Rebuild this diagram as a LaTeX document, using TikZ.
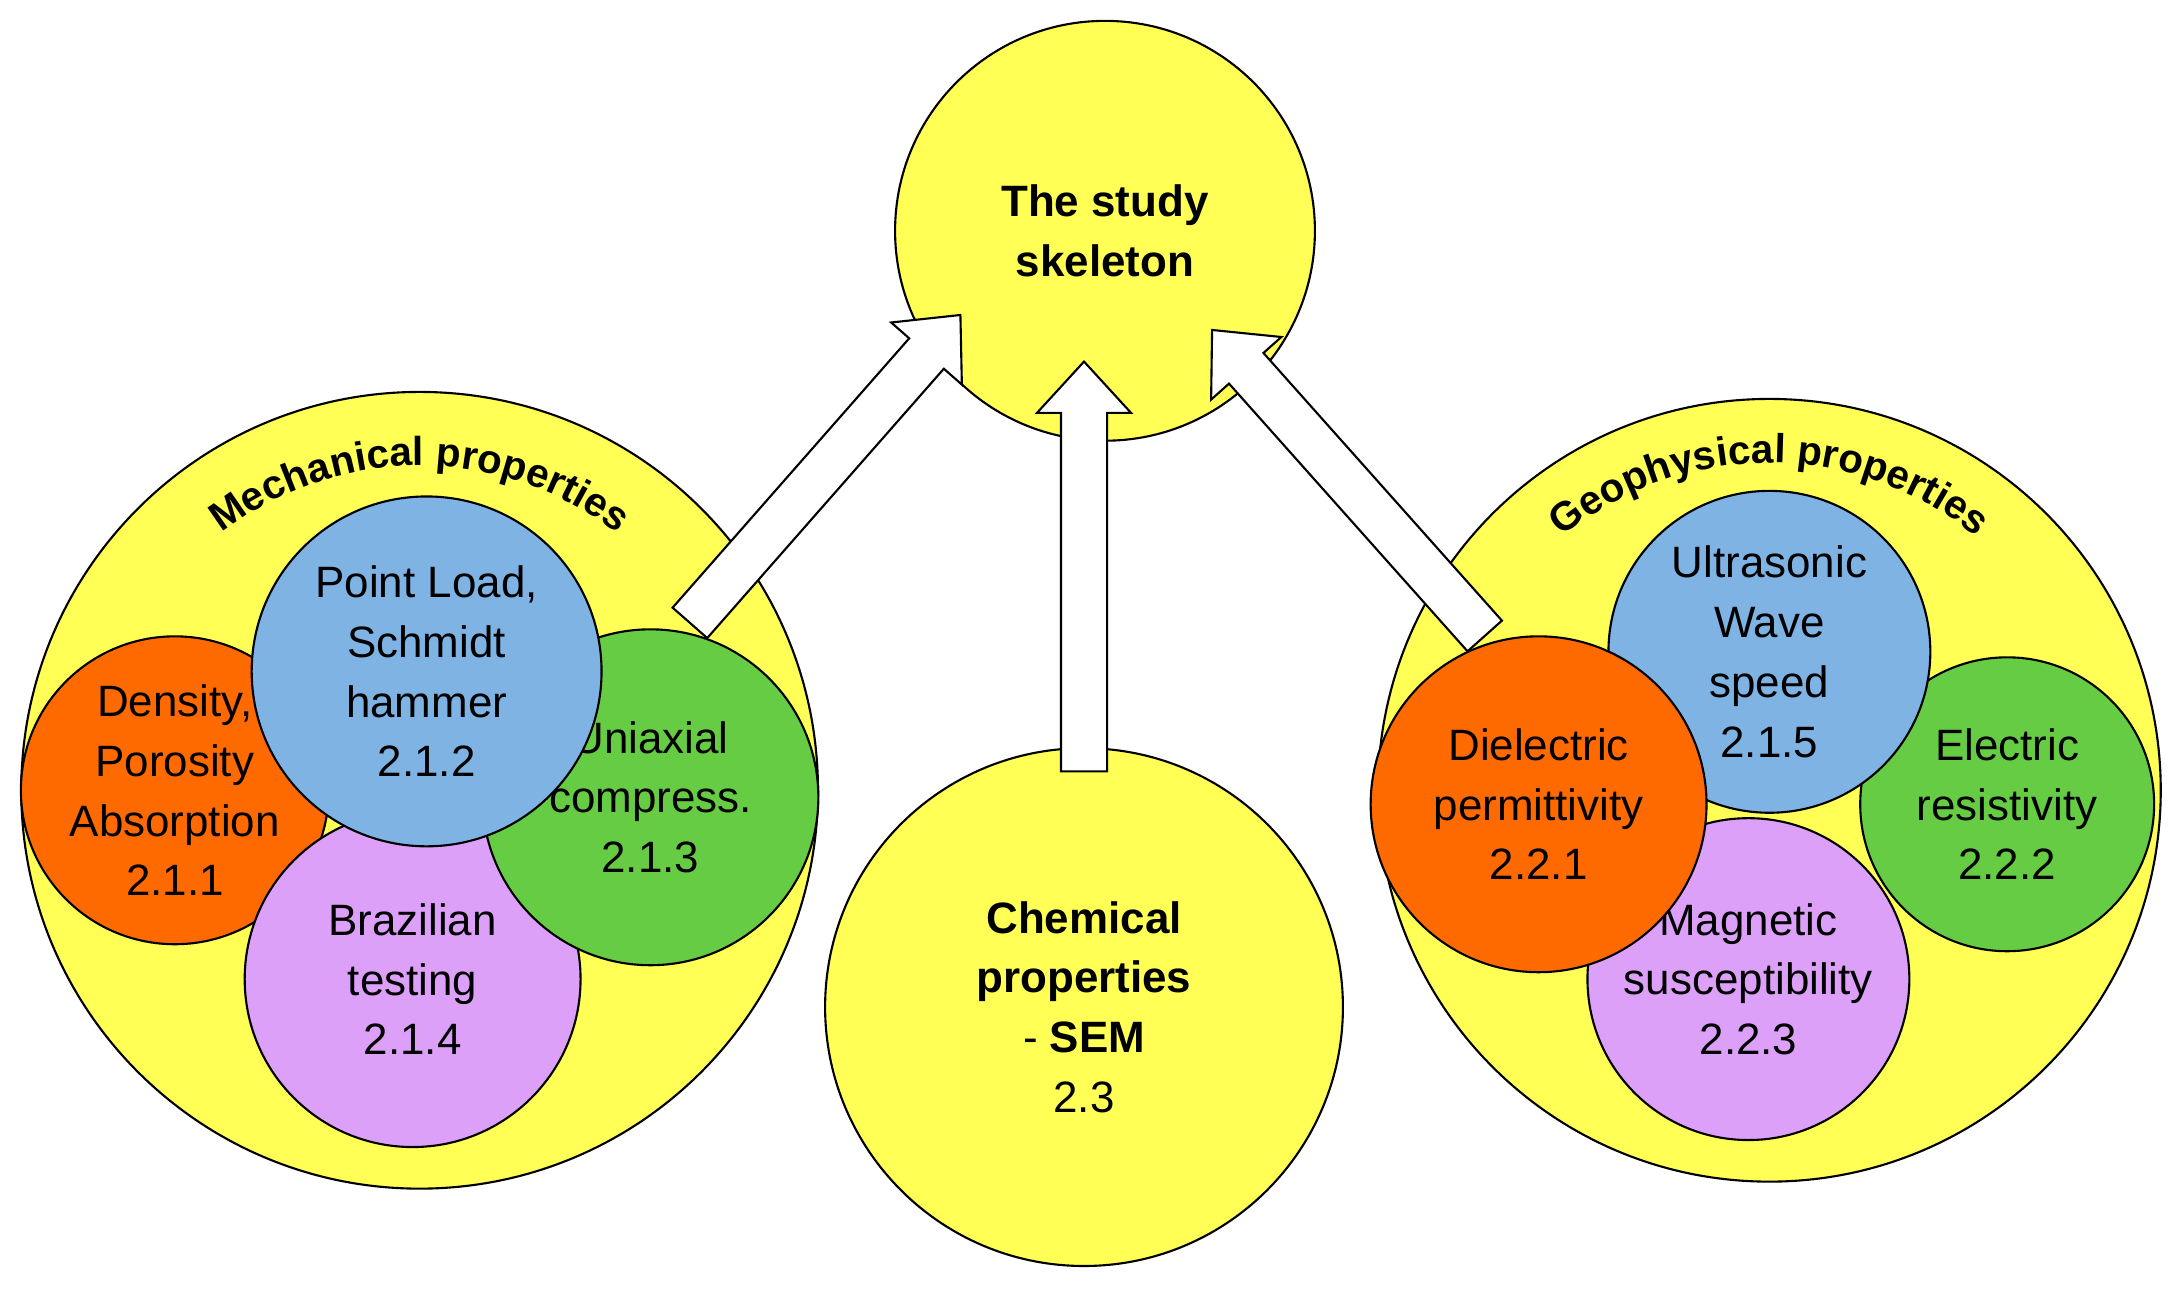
\documentclass[tikz,border=0pt]{standalone}
\usepackage{fontspec}
\setmainfont{Liberation Sans}
\usetikzlibrary{shapes.arrows,decorations.text}
\definecolor{skyellow}{HTML}{FFFF55}
\definecolor{skorange}{HTML}{FF6A00}
\definecolor{skblue}{HTML}{7EB3E4}
\definecolor{skgreen}{HTML}{66CC44}
\definecolor{skpurple}{HTML}{DDA0F8}
\tikzset{
  bubble/.style={circle, draw=black, line width=0.6pt, align=center, inner sep=0pt,
    font=\fontsize{12.5}{17}\selectfont},
  blockarrow/.style={single arrow, draw=black, fill=white, line width=0.6pt,
    inner sep=0.22cm, single arrow head extend=0.24cm, single arrow tip angle=85,
    minimum height=4.1cm}
}
\begin{document}
\begin{tikzpicture}[x=0.01399cm, y=0.01399cm]
\useasboundingbox (0,0) rectangle (1560,924);
% big groups
\node[bubble, fill=skyellow, minimum size=7.97cm] (mech) at (300,359) {};
\node[bubble, fill=skyellow, minimum size=7.83cm] (geo) at (1265,359) {};
\node[bubble, fill=skyellow, minimum size=4.2cm] (study) at (790,759)
  {\bfseries The study\\\bfseries skeleton};
\node[bubble, fill=skyellow, minimum size=5.18cm] (chem) at (775,204)
  {\bfseries Chemical\\\bfseries properties\\- \bfseries SEM\\2.3};
% curved titles
\path[decorate, decoration={text along path, text align=center,
  text={|\bfseries\fontsize{11.5}{13}\selectfont|Mechanical properties}}]
  (mech.center) ++(150:232) arc (150:30:232);
\path[decorate, decoration={text along path, text align=center,
  text={|\bfseries\fontsize{11.5}{13}\selectfont|Geophysical properties}}]
  (geo.center) ++(150:234) arc (150:30:234);
% mechanical tests
\node[bubble, fill=skorange, minimum size=3.08cm] (dens) at (125,359) {Density,\\Porosity\\Absorption\\2.1.1};
\node[bubble, fill=skpurple, minimum size=3.36cm] (braz) at (295,224) {Brazilian\\testing\\2.1.4};
\node[bubble, fill=skgreen, minimum size=3.36cm] (uni) at (465,354) {Uniaxial\\compress.\\2.1.3};
\node[bubble, fill=skblue, minimum size=3.5cm] (point) at (305,444) {Point Load,\\Schmidt\\hammer\\2.1.2};
% geophysical tests
\node[bubble, fill=skgreen, minimum size=2.94cm] (elec) at (1435,349) {Electric\\resistivity\\2.2.2};
\node[bubble, fill=skpurple, minimum size=3.22cm] (magn) at (1250,224) {Magnetic\\susceptibility\\2.2.3};
\node[bubble, fill=skblue, minimum size=3.22cm] (ultra) at (1265,458) {Ultrasonic\\Wave\\speed\\2.1.5};
\node[bubble, fill=skorange, minimum size=3.36cm] (diel) at (1100,349) {Dielectric\\permittivity\\2.2.1};
% block arrows
\node[blockarrow, rotate=48.7] (amech) at (584,582) {};
\node[blockarrow, rotate=90] (achem) at (775,510) {};
\node[blockarrow, rotate=131.7] (ageo) at (970,572) {};
\end{tikzpicture}
\end{document}
